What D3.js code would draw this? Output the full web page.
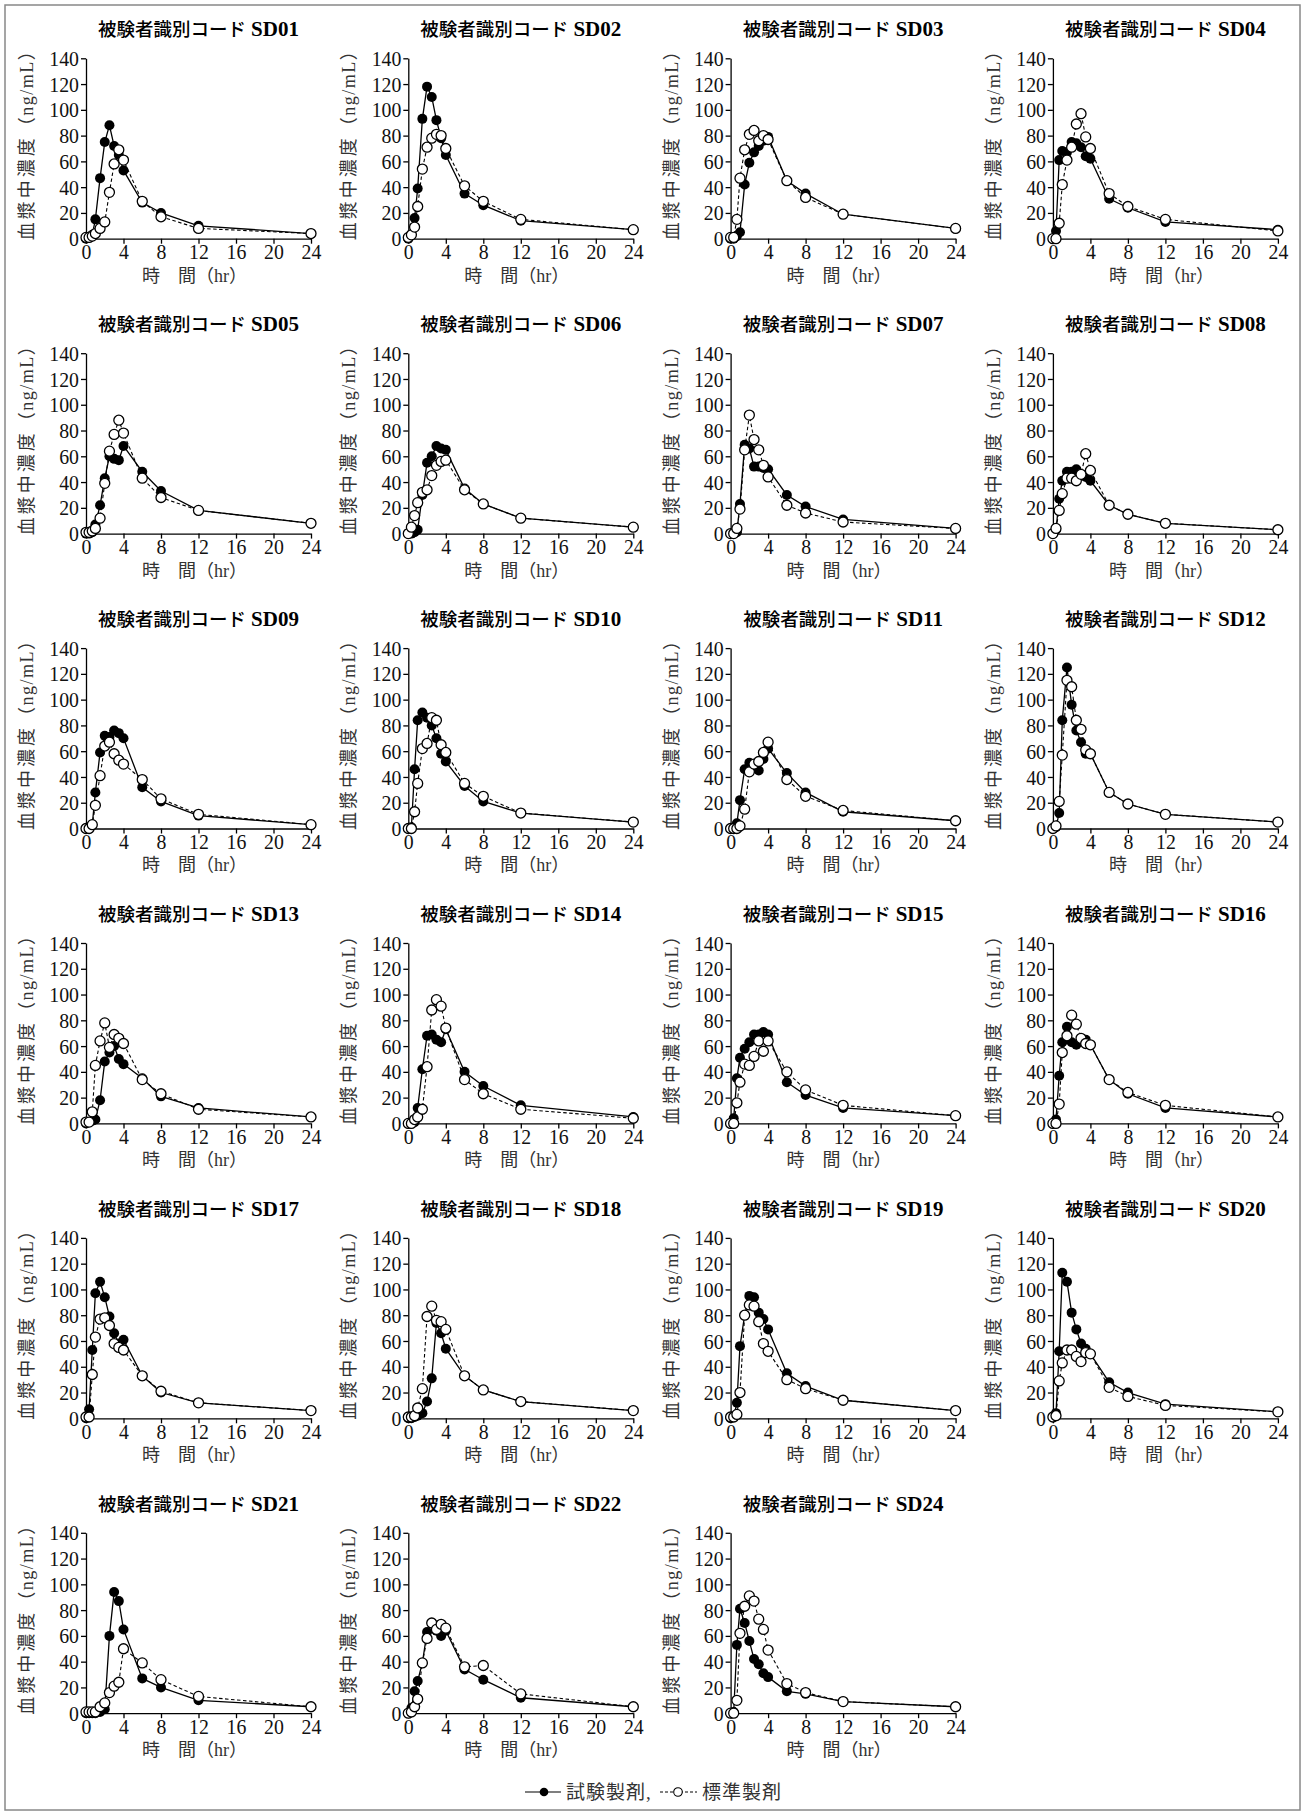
<!DOCTYPE html>
<html lang="ja">
<head>
<meta charset="utf-8">
<script src="https://cdn.jsdelivr.net/npm/d3@7"></script>
<style>
	body { margin: 0; background: #fff; }
	svg text { font-family: 'Liberation Serif', 'Noto Sans CJK JP', serif; }
</style>
</head>
<body>
<script>
// sampling times (hr)
const hours = [0, 0.33, 0.67, 1, 1.5, 2, 2.5, 3, 3.5, 4, 6, 8, 12, 24]

const subjects = ['SD01', 'SD02', 'SD03', 'SD04', 'SD05', 'SD06', 'SD07', 'SD08',
	'SD09', 'SD10', 'SD11', 'SD12', 'SD13', 'SD14', 'SD15', 'SD16',
	'SD17', 'SD18', 'SD19', 'SD20', 'SD21', 'SD22', 'SD24']

// 試験製剤 (ng/mL), one row per subject
const testSeries = [
	[0, 1, 3, 15, 47, 75, 88, 72, 65, 53, 28, 20, 10, 4],
	[0, 3, 16, 39, 93, 118, 110, 92, 78, 65, 35, 26, 14, 7],
	[0, 0, 2, 5, 42, 59, 67, 72, 76, 79, 45, 35, 19, 8],
	[0, 6, 61, 68, 67, 75, 74, 71, 64, 62, 31, 24, 13, 7],
	[0, 0, 1, 7, 22, 43, 60, 58, 57, 68, 48, 33, 18, 8],
	[0, 0, 1, 3, 30, 55, 60, 68, 66, 65, 35, 23, 12, 5],
	[0, 0, 1, 23, 69, 66, 52, 52, 51, 50, 30, 21, 11, 4],
	[0, 3, 27, 41, 48, 48, 50, 46, 44, 41, 22, 15, 8, 3],
	[0, 0, 3, 28, 59, 72, 71, 76, 74, 70, 32, 21, 10, 3],
	[0, 1, 46, 84, 90, 86, 80, 70, 58, 52, 33, 21, 12, 5],
	[0, 0, 4, 22, 46, 51, 47, 45, 54, 62, 43, 28, 13, 6],
	[0, 1, 12, 84, 125, 96, 76, 67, 58, 58, 28, 19, 11, 5],
	[0, 1, 2, 3, 18, 48, 55, 60, 50, 46, 35, 21, 12, 5],
	[0, 0, 1, 12, 42, 68, 69, 65, 63, 73, 40, 29, 14, 5],
	[0, 4, 35, 51, 58, 63, 69, 69, 71, 69, 32, 22, 12, 6],
	[0, 3, 37, 63, 75, 63, 61, 65, 65, 61, 34, 23, 12, 5],
	[0, 7, 53, 97, 106, 94, 79, 66, 58, 61, 33, 20, 12, 6],
	[0, 0, 1, 2, 4, 13, 31, 74, 66, 54, 33, 22, 13, 6],
	[0, 1, 12, 56, 80, 95, 94, 82, 77, 69, 35, 25, 14, 6],
	[1, 4, 52, 113, 106, 82, 69, 58, 54, 50, 28, 20, 11, 5],
	[0, 0, 0, 0, 1, 3, 60, 94, 87, 65, 27, 20, 10, 5],
	[0, 4, 17, 25, 39, 63, 70, 64, 60, 64, 34, 26, 12, 5],
	[0, 1, 53, 81, 70, 56, 42, 38, 31, 28, 17, 15, 9, 5]
]

// 標準製剤 (ng/mL)
const refSeries = [
	[1, 1, 2, 4, 8, 13, 36, 58, 69, 61, 29, 17, 8, 4],
	[1, 3, 9, 25, 54, 71, 78, 81, 80, 70, 41, 29, 15, 7],
	[1, 1, 15, 47, 69, 81, 84, 76, 80, 77, 45, 32, 19, 8],
	[0, 0, 12, 42, 61, 71, 89, 97, 79, 70, 35, 25, 15, 6],
	[1, 1, 2, 4, 12, 39, 64, 77, 88, 78, 43, 28, 18, 8],
	[0, 5, 14, 24, 32, 34, 45, 53, 56, 57, 34, 23, 12, 5],
	[0, 0, 4, 19, 65, 92, 73, 65, 53, 44, 22, 16, 9, 4],
	[0, 4, 18, 31, 43, 43, 41, 46, 62, 49, 22, 15, 8, 3],
	[0, 0, 3, 18, 41, 64, 67, 58, 53, 50, 38, 23, 11, 3],
	[0, 0, 13, 35, 62, 66, 86, 84, 65, 59, 35, 25, 12, 5],
	[0, 0, 0, 2, 15, 44, 50, 52, 59, 67, 38, 25, 14, 6],
	[0, 2, 21, 57, 115, 110, 84, 77, 61, 58, 28, 19, 11, 5],
	[1, 1, 9, 45, 64, 78, 59, 69, 66, 62, 34, 23, 11, 5],
	[0, 0, 3, 5, 11, 44, 88, 96, 91, 74, 34, 23, 11, 4],
	[0, 0, 16, 32, 46, 45, 52, 64, 56, 64, 40, 26, 14, 6],
	[0, 0, 15, 55, 68, 84, 77, 66, 62, 61, 34, 24, 14, 5],
	[1, 1, 34, 63, 77, 78, 72, 58, 55, 53, 33, 21, 12, 6],
	[1, 1, 2, 8, 23, 79, 87, 76, 75, 69, 33, 22, 13, 6],
	[1, 1, 3, 20, 80, 88, 87, 75, 58, 52, 30, 23, 14, 6],
	[1, 2, 29, 43, 53, 53, 48, 44, 51, 50, 24, 17, 10, 5],
	[1, 1, 1, 1, 5, 8, 16, 21, 24, 50, 39, 26, 13, 5],
	[0, 1, 5, 11, 39, 58, 70, 65, 69, 66, 36, 37, 15, 5],
	[0, 0, 10, 62, 83, 91, 87, 73, 65, 49, 23, 16, 9, 5]
]

const xTicks = [0, 4, 8, 12, 16, 20, 24]
const yTicks = [0, 20, 40, 60, 80, 100, 120, 140]

const titlePrefix = '被験者識別コード'
const xLabel = '時\u3000間（hr）'
const yLabelMain = '血漿中濃度'
const yLabelUnit = '（ng/mL）'
const legendLabels = ['試験製剤,', '標準製剤']

const W = 1304, H = 1816
const plotW = 225, plotH = 180.4
const colX = c => 86 + c * 322.3
const rowY = r => 58.3 + r * 294.9
const squeeze = 0.9

const $svg = d3.select('body').append('svg')
	.attr('width', W)
	.attr('height', H)

$svg.append('rect')
	.attr('x', 5).attr('y', 5)
	.attr('width', 1295).attr('height', 1805)
	.attr('fill', 'none')
	.attr('stroke', '#888')
	.attr('stroke-width', 1.5)

const x = d3.scaleLinear().domain([0, 24]).range([0, plotW])
const y = d3.scaleLinear().domain([0, 140]).range([plotH, 0])

const line = d3.line()
	.x((d, i) => x(hours[i]))
	.y(d => y(d))

function styleAxis($a) {
	$a.attr('font-size', null).attr('font-family', null)
	$a.selectAll('.domain, .tick line')
		.attr('stroke', '#000')
		.attr('stroke-width', 1.3)
	$a.selectAll('text')
		.attr('fill', '#111')
		.style('font-size', '22px')
		.style('font-family', "'Liberation Serif', serif")
		.attr('transform', `scale(${squeeze},1)`)
}

subjects.forEach((name, idx) => {
	const $g = $svg.append('g')
		.attr('transform', `translate(${colX(idx % 4)}, ${rowY(Math.floor(idx / 4))})`)

	// title
	const $title = $g.append('text')
		.attr('x', plotW / 2)
		.attr('y', -22)
		.attr('text-anchor', 'middle')
		.attr('fill', '#000')
	$title.append('tspan')
		.style('font-family', "'Noto Sans CJK JP', sans-serif")
		.style('font-size', '18.5px')
		.style('font-weight', 500)
		.text(titlePrefix)
	$title.append('tspan')
		.attr('dx', 5)
		.style('font-size', '21px')
		.style('font-weight', 'bold')
		.text(name)

	// axes
	const $x = $g.append('g')
		.attr('transform', `translate(0, ${plotH})`)
		.call(d3.axisBottom(x).tickValues(xTicks).tickSize(5).tickSizeOuter(0).tickPadding(0))
	styleAxis($x)

	const $y = $g.append('g')
		.call(d3.axisLeft(y).tickValues(yTicks).tickSize(5).tickSizeOuter(0).tickPadding(2))
	styleAxis($y)
	$y.selectAll('text').attr('x', -7 / squeeze)

	$g.append('text')
		.attr('x', plotW / 2 - 4)
		.attr('y', plotH + 43)
		.attr('text-anchor', 'middle')
		.attr('fill', '#333')
		.style('font-size', '18px')
		.text(xLabel)

	const $yl = $g.append('text')
		.attr('transform', `translate(-53, ${plotH / 2 - 8}) rotate(-90)`)
		.attr('text-anchor', 'middle')
		.attr('fill', '#333')
		.style('font-size', '18px')
	$yl.append('tspan').style('letter-spacing', '3px').text(yLabelMain)
	$yl.append('tspan').style('letter-spacing', '1.5px').text(yLabelUnit)

	// series
	$g.append('path')
		.attr('d', line(testSeries[idx]))
		.attr('fill', 'none')
		.attr('stroke', '#000')
		.attr('stroke-width', 1.3)

	$g.append('path')
		.attr('d', line(refSeries[idx]))
		.attr('fill', 'none')
		.attr('stroke', '#000')
		.attr('stroke-width', 1.1)
		.attr('stroke-dasharray', '3.5,2.5')

	$g.selectAll('.pt-test')
		.data(testSeries[idx])
		.enter()
		.append('circle')
		.attr('class', 'pt-test')
		.attr('cx', (d, i) => x(hours[i]))
		.attr('cy', d => y(d))
		.attr('r', 5)
		.attr('fill', '#000')

	$g.selectAll('.pt-ref')
		.data(refSeries[idx])
		.enter()
		.append('circle')
		.attr('class', 'pt-ref')
		.attr('cx', (d, i) => x(hours[i]))
		.attr('cy', d => y(d))
		.attr('r', 5)
		.attr('fill', '#fff')
		.attr('stroke', '#000')
		.attr('stroke-width', 1.3)
})

// legend
const $legend = $svg.append('g')
	.attr('transform', 'translate(525, 1792)')

$legend.append('line')
	.attr('x1', 0).attr('x2', 36)
	.attr('stroke', '#000').attr('stroke-width', 1.2)
$legend.append('circle')
	.attr('cx', 19).attr('r', 4.3)
	.attr('fill', '#000')
$legend.append('text')
	.attr('x', 41).attr('y', 7)
	.attr('fill', '#333')
	.style('font-size', '19px')
	.style('letter-spacing', '1px')
	.text(legendLabels[0])

$legend.append('line')
	.attr('x1', 135).attr('x2', 172)
	.attr('stroke', '#000').attr('stroke-width', 1)
	.attr('stroke-dasharray', '3,2')
$legend.append('circle')
	.attr('cx', 153).attr('r', 4.3)
	.attr('fill', '#fff').attr('stroke', '#000').attr('stroke-width', 1.1)
$legend.append('text')
	.attr('x', 177).attr('y', 7)
	.attr('fill', '#333')
	.style('font-size', '19px')
	.style('letter-spacing', '1px')
	.text(legendLabels[1])
</script>
</body>
</html>
